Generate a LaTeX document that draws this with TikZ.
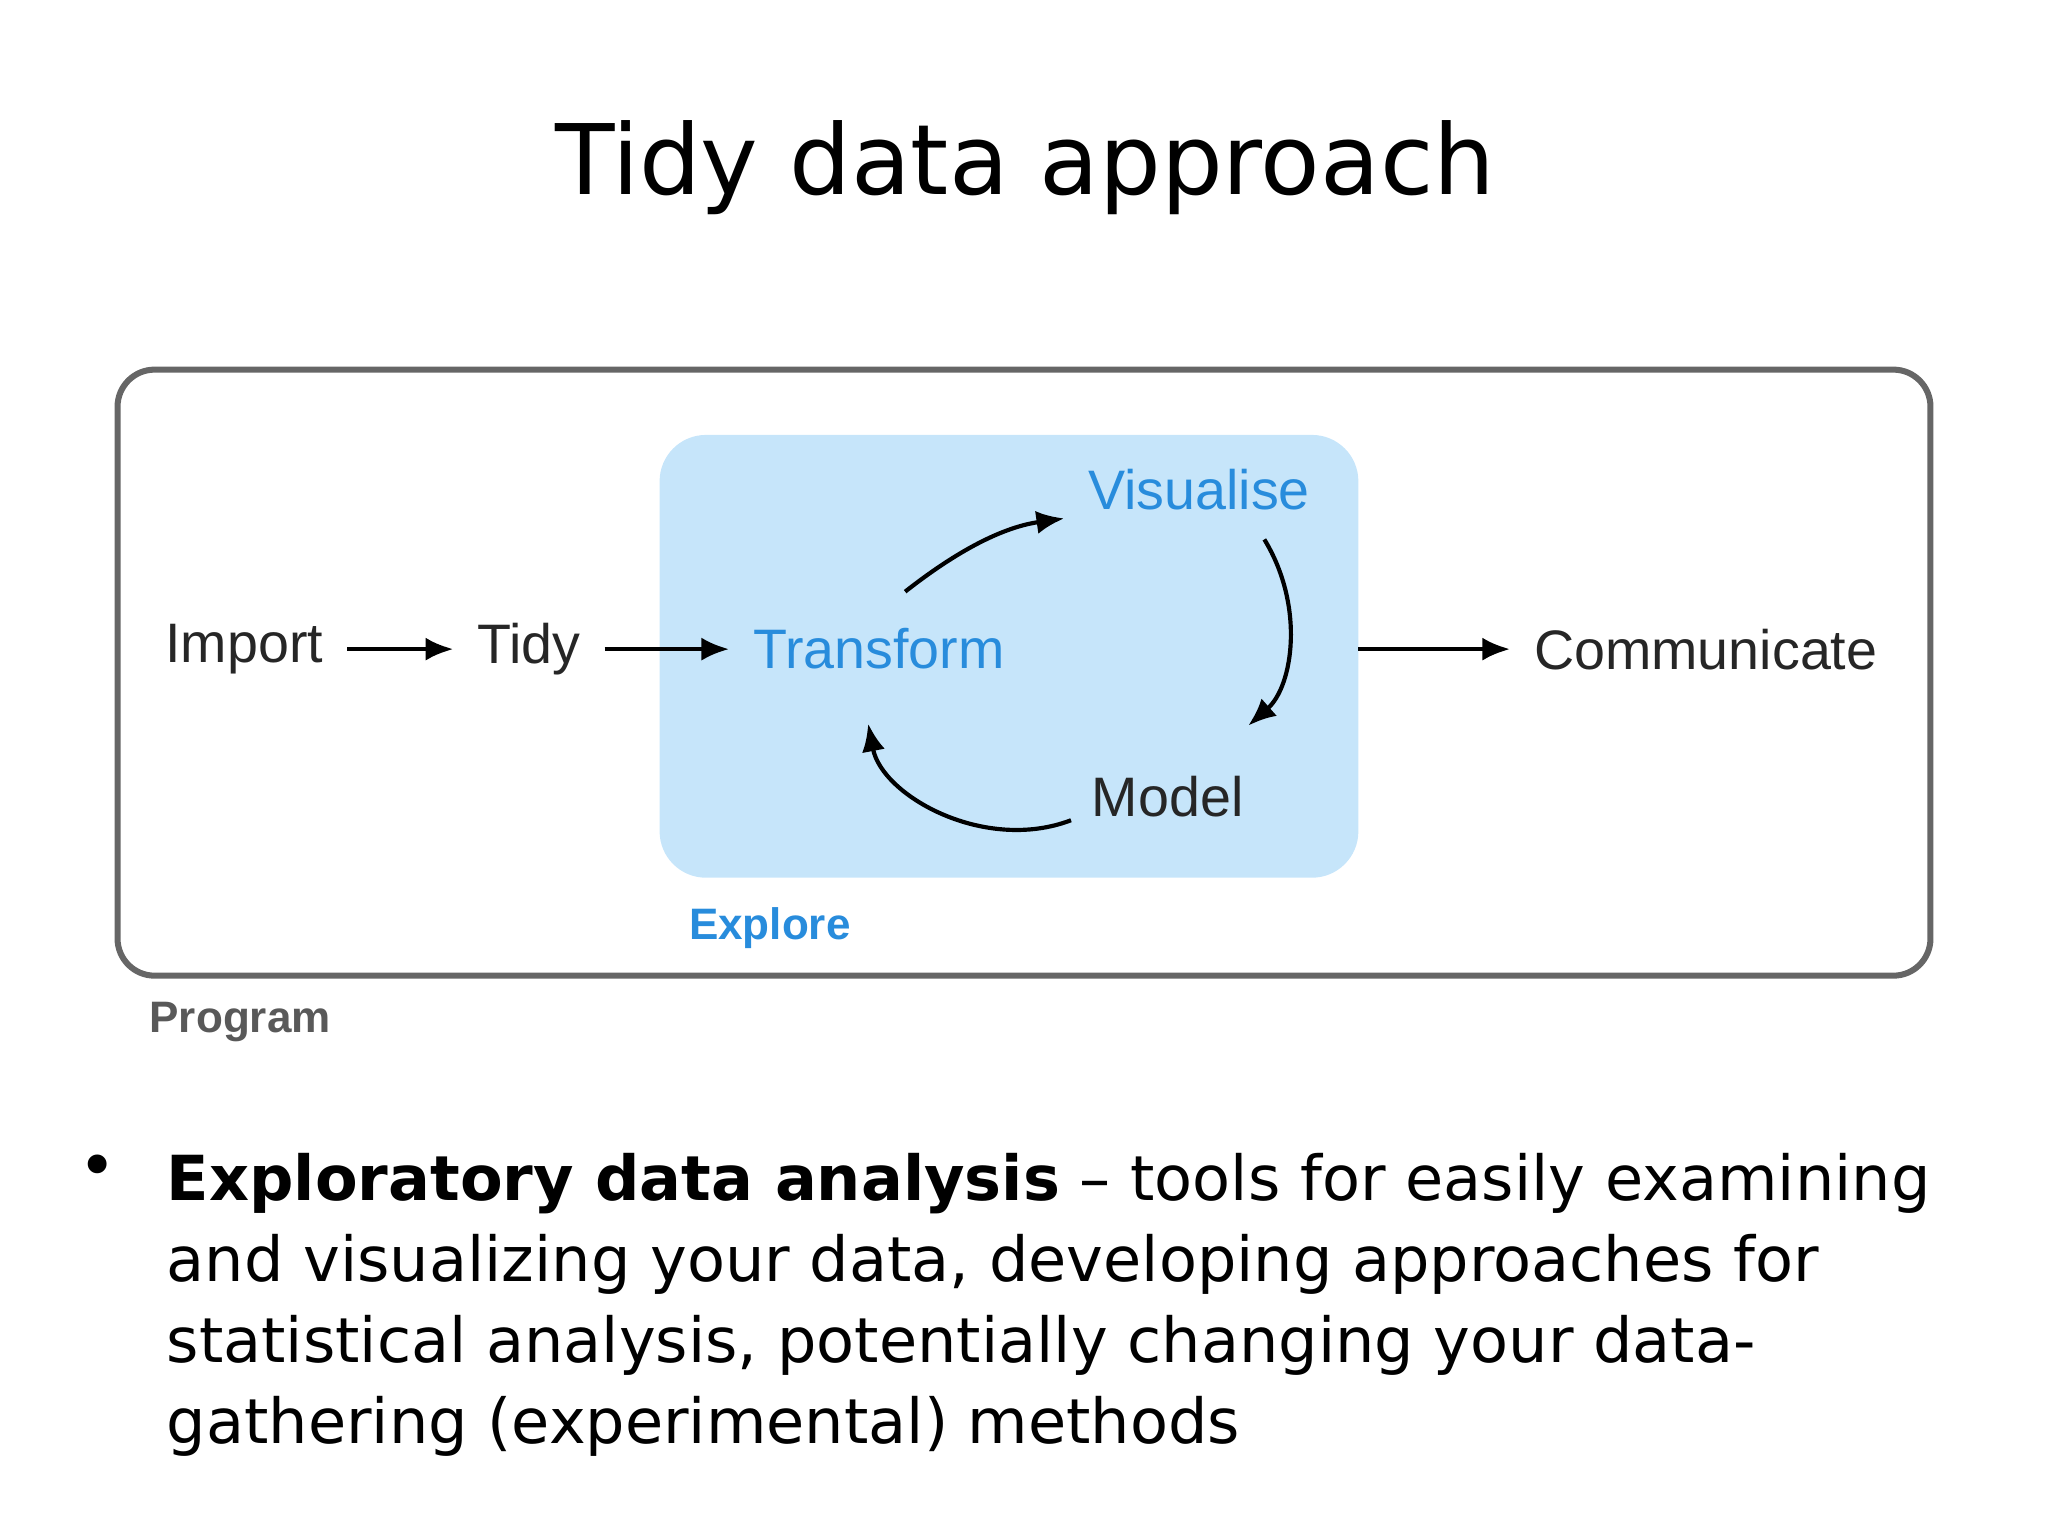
\documentclass[tikz,border=0pt]{standalone}
\usepackage{fontspec}
\setmainfont{Liberation Sans}
\newfontfamily\slide{DejaVu Sans}
\usetikzlibrary{arrows.meta}
\definecolor{exblue}{RGB}{198,229,250}
\definecolor{txblue}{RGB}{40,140,220}
\tikzset{lbl/.style={font=\fontsize{12}{14}\selectfont,text=black!85,inner sep=1pt},
 blbl/.style={lbl,text=txblue},
 arr/.style={-{Latex[length=6pt,width=5pt]},line width=0.9pt,shorten <=4pt,shorten >=4pt}}
\begin{document}
\begin{tikzpicture}[x=0.0099cm,y=-0.0099cm]
\useasboundingbox (0,0) rectangle (1568,1176);
\node[font=\slide\fontsize{21}{26}\selectfont] (title) at (785,128) {Tidy data approach};
\draw[black!60,line width=1.3pt,rounded corners=8pt] (90,283) rectangle (1478,747);
\node[anchor=north west,font=\bfseries\fontsize{9.5}{11}\selectfont,text=black!65] (prog) at (102,755) {Program};
\fill[exblue,rounded corners=10pt] (505,333) rectangle (1040,672);
\coordinate (exr) at (1040,497);
\node[anchor=north west,font=\bfseries\fontsize{9.5}{11}\selectfont,text=txblue] (expl) at (515,682) {Explore};
\node[lbl] (imp) at (187,497) {Import};
\node[lbl] (tidy) at (405,497) {Tidy};
\node[blbl] (tr) at (673,497) {Transform};
\node[blbl] (vis) at (918,375) {Visualise};
\node[lbl] (mod) at (894,610) {Model};
\node[lbl] (com) at (1306,497) {Communicate};
\draw[arr] (imp) -- (tidy);
\draw[arr] (tidy) -- (tr);
\draw[arr,shorten <=0pt] (exr) -- (com);
\draw[arr,shorten <=0pt] (693,453) to[bend left=15] (vis.south west);
\draw[arr,shorten <=0pt] (968,413) to[bend left=40] (945,565);
\draw[arr,shorten <=0pt] (820,628) to[bend left=50] (662,540);
\node[font=\slide\fontsize{14}{20}\selectfont] (dot) at (75,897) {•};
\node[anchor=north west,align=left,inner sep=0pt,font=\slide\fontsize{13.4}{17.5}\selectfont] (txt) at (127,882)
 {\textbf{Exploratory data analysis} – tools for easily examining\\and visualizing your data, developing approaches for\\statistical analysis, potentially changing your data-\\gathering (experimental) methods};
\end{tikzpicture}
\end{document}
